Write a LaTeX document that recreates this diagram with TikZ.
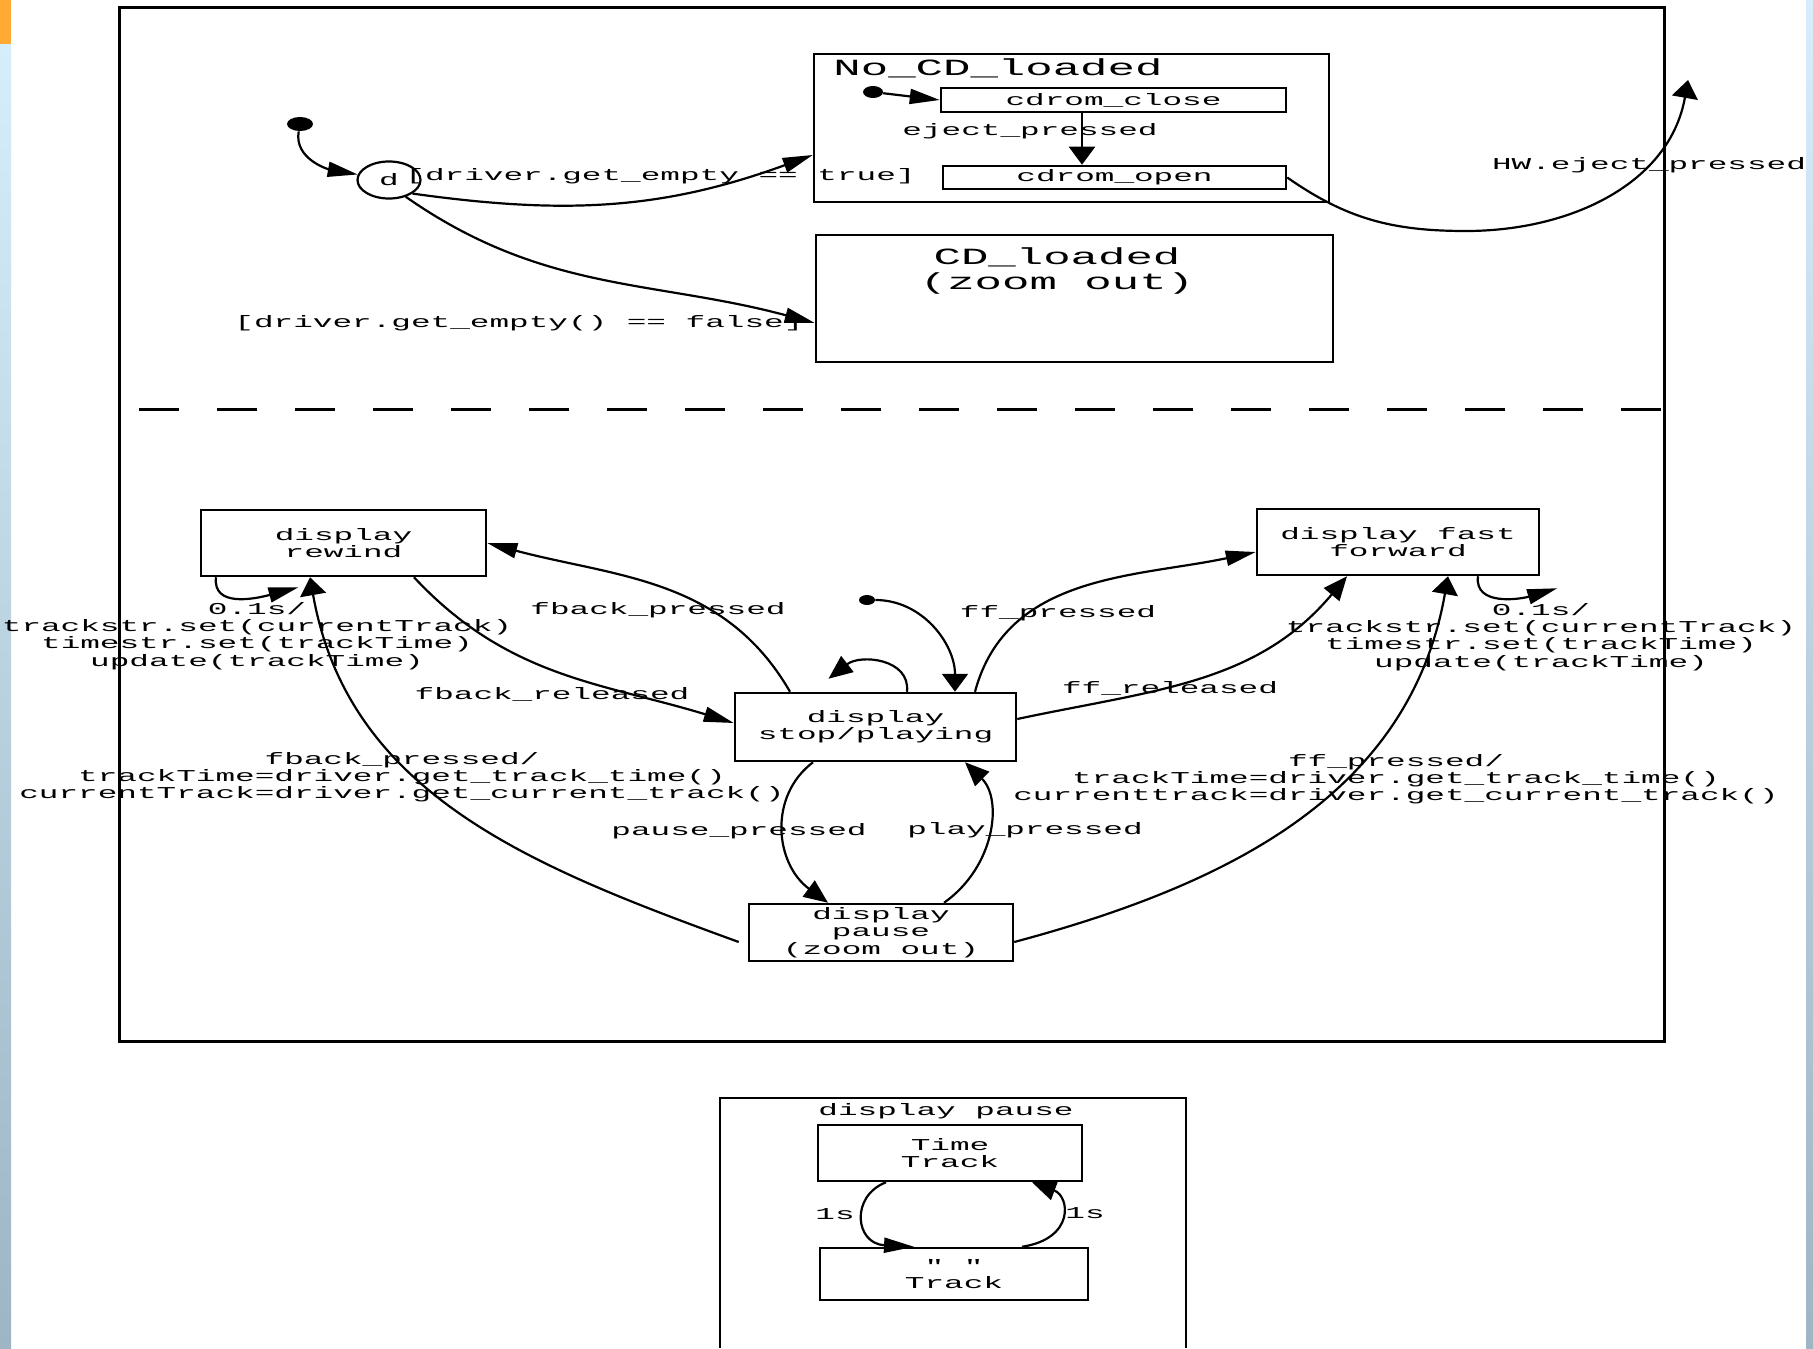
\documentclass[tikz,border=0pt]{standalone}
\usepackage{fontspec}
\usetikzlibrary{arrows.meta,calc,shapes.geometric}
\newfontfamily\cfs[FakeStretch=1.97]{Liberation Mono}
\newcommand\smtxt{\cfs\fontsize{8.3pt}{8.6pt}\selectfont}
\newcommand\bgtxt{\cfs\fontsize{11.6pt}{12.5pt}\selectfont}
\definecolor{stripTop}{HTML}{D6EEFB}
\definecolor{stripBot}{HTML}{9DB5C4}
\definecolor{stripOr}{HTML}{FFAA33}
\begin{document}
\begin{tikzpicture}[x=0.5pt,y=-0.5pt,
  box/.style={draw, line width=1.25pt, inner sep=0pt, font=\smtxt, align=center},
  lbl/.style={font=\smtxt, align=center, inner sep=0pt},
  arr/.style={line width=1.1pt, -{Triangle[length=12pt,width=10pt]}},
  arrH/.style={line width=1.1pt, -{Triangle[length=15pt,width=7.5pt]}},
  arrV/.style={line width=1.1pt, -{Triangle[length=9pt,width=13pt]}},
  dotst/.style={ellipse, fill, inner sep=0pt}]
\useasboundingbox (0,0) rectangle (1813,1348);
\fill[white] (0,0) rectangle (1813,1348);
% slide background strips
\fill[stripOr] (0,0) rectangle (11,45);
\shade[top color=stripTop, bottom color=stripBot] (0,45) rectangle (11,1348);
\shade[top color=stripTop, bottom color=stripBot] (1806,0) rectangle (1813,1348);

% outer composite
\node[draw, line width=1.5pt, inner sep=0pt, minimum width=772.5pt, minimum height=516.5pt] (outer) at (891.5,524.5) {};
\coordinate (dl) at (139,409);
\draw[line width=1.5pt, dash pattern=on 20pt off 19pt] (dl) -- (dl -| outer.east);

% upper region
\node[dotst, minimum width=13pt, minimum height=7pt] (i1) at (300,124) {};
\node[draw, ellipse, line width=1.1pt, minimum width=31.5pt, minimum height=18.5pt, inner sep=0pt, font=\smtxt] (ch) at (389,180) {d};
\node[box, minimum width=257.5pt, minimum height=74pt] (nocd) at (1071.5,128) {};
\node[font=\bgtxt, anchor=west, inner sep=0pt] (nocdt) at (833,68) {No\_CD\_loaded};
\node[dotst, minimum width=10pt, minimum height=6pt] (i2) at (873,92) {};
\node[box, minimum width=172.5pt, minimum height=12pt] (close) at (1113.5,100) {cdrom\_close};
\node[box, minimum width=171.5pt, minimum height=11.5pt] (open) at (1114.5,177.5) {cdrom\_open};
\node[box, minimum width=258.5pt, minimum height=63.5pt] (cdl) at (1074.5,298.5) {};
\node[font=\bgtxt, align=center, inner sep=0pt] (cdlt) at (1057,271) {CD\_loaded\\(zoom out)};
\coordinate (hwlow) at (1466,231);
\coordinate (hwend) at (1688,80);

\draw[arrH] (i1) to[out=-100,in=170] (ch.170);
\draw[arrH] (ch.-30) to[out=-8,in=200] ($(nocd.west)+(0,27)$);
\draw[arrH] (ch.-45) to[out=-35,in=165] ($(cdl.west)+(0,24.5)$);
\draw[arrH] (i2) -- (close.west);
\draw[arrV] ($(close.south)+(-31.5,0)$) -- ($(open.north)+(-32.5,0)$);
\draw[arrV] (open.east) to[out=-35,in=180] (hwlow) to[out=0,in=-100] (hwend);

\node[lbl, anchor=west] (ltrue) at (405,176) {[driver.get\_empty == true]};
\node[lbl] (lfalse) at (519,323) {[driver.get\_empty() == false]};
\node[lbl] (leject) at (1030,131) {eject\_pressed};
\node[lbl] (lhw) at (1649,165) {HW.eject\_pressed};

% lower region
\node[box, minimum width=142.5pt, minimum height=33pt] (rew) at (343.5,543) {display\\rewind};
\node[box, minimum width=141pt, minimum height=33pt] (ff) at (1398,542) {display fast\\forward};
\node[box, minimum width=140.5pt, minimum height=34pt] (stop) at (875.5,727) {display\\stop/playing};
\node[box, minimum width=132pt, minimum height=28.5pt] (pause) at (881,932.5) {display\\pause\\(zoom out)};
\node[dotst, minimum width=8pt, minimum height=5pt] (i3) at (867,600) {};

\draw[arrV] (i3) to[out=0,in=90] ($(stop.north)+(79.5,0)$);
\draw[arr] ($(stop.north)+(31.5,0)$) .. controls ($(stop.north)+(35,-33)$) and ($(stop.north)+(-15,-38)$) .. ($(stop.north)+(-47,-13)$);
\draw[arrH] ($(stop.north)+(99.5,0)$) to[out=75,in=192] ($(ff.west)+(0,10)$);
\draw[arr] ($(stop.east)+(0,-8)$) to[out=12,in=-130] ($(ff.south)+(-51,0)$);
\draw[arrH] ($(ff.south)+(80,0)$) .. controls ($(ff.south)+(76,30)$) and ($(ff.south)+(122,23)$) .. ($(ff.south east)+(17,12)$);
\draw[arrV] ($(pause.east)+(0,9.5)$) to[out=15,in=-100] ($(ff.south)+(50,0)$);
\draw[arrH] ($(stop.north)+(-85.5,0)$) to[out=120,in=-15] (rew.east);
\draw[arrH] ($(rew.south)+(70.5,0)$) to[out=-47,in=163] ($(stop.west)+(0,-4)$);
\draw[arrH] ($(rew.south)+(-127.5,0)$) .. controls ($(rew.south)+(-131,30)$) and ($(rew.south)+(-90,22)$) .. ($(rew.south)+(-45,10)$);
\draw[arrV] ($(pause.west)+(-9,9.5)$) to[out=160,in=-80] ($(rew.south)+(-33.5,0)$);
\draw[arr] ($(stop.south)+(-62.5,0)$) .. controls ($(stop.south)+(-107.5,34)$) and ($(pause.north)+(-106,-39)$) .. ($(pause.north)+(-53,0)$);
\draw[arr] ($(pause.north)+(63,0)$) .. controls ($(pause.north)+(114,-36)$) and ($(stop.south)+(127.5,37)$) .. ($(stop.south)+(89.5,0)$);

\node[lbl] (lfbp) at (658,610) {fback\_pressed};
\node[lbl] (lfbr) at (552,694) {fback\_released};
\node[lbl] (lrewloop) at (257,636) {0.1s/\\trackstr.set(currentTrack)\\timestr.set(trackTime)\\update(trackTime)};
\node[lbl] (lffp) at (1058,613) {ff\_pressed};
\node[lbl] (lffr) at (1170,688) {ff\_released};
\node[lbl] (lffloop) at (1541,637) {0.1s/\\trackstr.set(currentTrack)\\timestr.set(trackTime)\\update(trackTime)};
\node[lbl] (lfbp2) at (402,777) {fback\_pressed/\\trackTime=driver.get\_track\_time()\\currentTrack=driver.get\_current\_track()};
\node[lbl] (lffp2) at (1396,779) {ff\_pressed/\\trackTime=driver.get\_track\_time()\\currenttrack=driver.get\_current\_track()};
\node[lbl] (lpause) at (739,831) {pause\_pressed};
\node[lbl] (lplay) at (1025,830) {play\_pressed};

% bottom composite: display pause
\coordinate (dpbl) at (720,1348);
\coordinate (dptr) at (1186,1098);
\draw[line width=1.25pt] (dpbl) |- (dptr) -- (dptr |- dpbl);
\node[lbl] (dpt) at (946,1111) {display pause};
\node[box, minimum width=132pt, minimum height=28pt] (tt) at (950,1153) {Time\\Track};
\node[box, minimum width=134pt, minimum height=26pt] (qt) at (954,1274) {" "\\Track};
\draw[arrH] ($(tt.south)+(-64,0)$) .. controls ($(tt.south)+(-100,14)$) and ($(qt.north)+(-99,-3)$) .. ($(qt.north)+(-40,0)$);
\draw[arr] ($(qt.north)+(68,0)$) .. controls ($(qt.north)+(121,-8)$) and ($(tt.south)+(120,14)$) .. ($(tt.south)+(82,0)$);
\node[lbl] (l1a) at (835,1214) {1s};
\node[lbl] (l1b) at (1085,1213) {1s};
\end{tikzpicture}
\end{document}
